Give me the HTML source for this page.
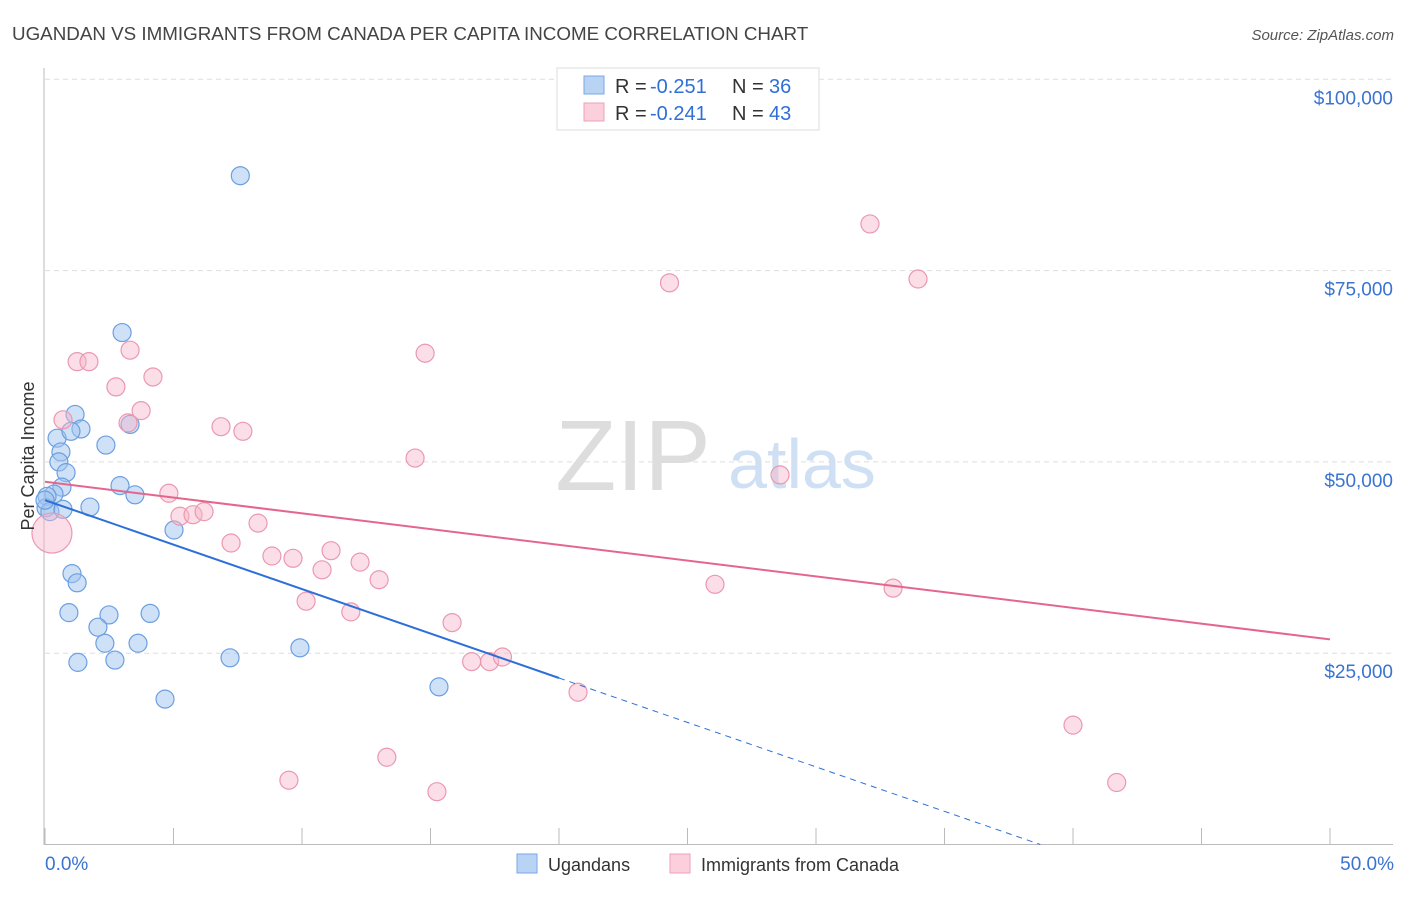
<!DOCTYPE html>
<html><head><meta charset="utf-8"><style>
body{margin:0;background:#fff;font-family:"Liberation Sans",sans-serif}
svg text{font-family:"Liberation Sans",sans-serif}
</style></head><body>
<svg id="chart" width="1406" height="892">
<text x="12" y="40" font-size="18.8" fill="#444">UGANDAN VS IMMIGRANTS FROM CANADA PER CAPITA INCOME CORRELATION CHART</text>
<text x="1394" y="40" font-size="15" fill="#555" font-style="italic" text-anchor="end">Source: ZipAtlas.com</text>
<g>
<text x="633" y="490" font-size="100" fill="#ddd" font-family="Liberation Serif,serif" text-anchor="middle">ZIP</text>
<text x="802" y="488" font-size="70" fill="#cfe0f5" text-anchor="middle">atlas</text>
</g>
<g id="grid"></g><g id="axes"></g><g id="marks"></g>
<text transform="translate(34,456) rotate(-90)" font-size="18" fill="#333" text-anchor="middle">Per Capita Income</text>
<g>
<rect x="557" y="68" width="262" height="62" fill="#fff" stroke="#ddd"/>
<rect x="584" y="76" width="20" height="18" fill="#b9d3f5" stroke="#7aa7e6"/>
<rect x="584" y="103" width="20" height="18" fill="#fbd0dc" stroke="#eea0b6"/>
<text x="615" y="93" font-size="20" fill="#333">R =</text>
<text x="650" y="93" font-size="20" fill="#2f6fd6">-0.251</text>
<text x="732" y="93" font-size="20" fill="#333">N =</text>
<text x="769" y="93" font-size="20" fill="#2f6fd6">36</text>
<text x="615" y="120" font-size="20" fill="#333">R =</text>
<text x="650" y="120" font-size="20" fill="#2f6fd6">-0.241</text>
<text x="732" y="120" font-size="20" fill="#333">N =</text>
<text x="769" y="120" font-size="20" fill="#2f6fd6">43</text>
</g>
<g>
<rect x="517" y="854" width="20" height="19" fill="#b9d3f5" stroke="#7aa7e6"/>
<text x="548" y="871" font-size="18" fill="#333">Ugandans</text>
<rect x="670" y="854" width="20" height="19" fill="#fbd0dc" stroke="#eea0b6"/>
<text x="701" y="871" font-size="18" fill="#333">Immigrants from Canada</text>
</g>
</svg>
<script>
const blueX=[7.6,3.0,1.17,1.4,3.31,0.47,1.01,2.37,0.62,0.54,0.82,0.66,2.92,3.5,0.35,0.08,0.04,0.19,0.7,1.75,5.02,1.05,1.25,0.93,2.49,4.09,2.06,2.33,3.62,1.28,2.72,7.2,9.92,4.67,15.33,0.0];
const blueY=[87400,66900,56200,54300,54900,53100,54000,52200,51300,50000,48600,46700,46900,45700,45800,45500,44000,43500,43800,44100,41100,35400,34200,30300,30000,30200,28400,26300,26300,23800,24100,24400,25700,19000,20600,45000];
const pinkX=[32.1,24.3,33.97,14.79,3.31,1.25,1.71,4.2,2.76,3.74,3.23,0.7,6.85,7.7,14.4,28.6,4.82,5.25,5.76,6.19,8.29,7.24,8.83,9.65,11.13,10.78,12.26,13.0,10.16,11.9,15.84,26.07,33.0,16.6,17.3,17.8,20.74,40.0,13.3,9.49,15.25,41.7,0.27];
const pinkY=[81100,73400,73900,64200,64600,63100,63100,61100,59800,56700,55100,55500,54600,54000,50500,48300,45900,42900,43100,43500,42000,39400,37700,37400,38400,35900,36900,34600,31800,30400,29000,34000,33500,23900,23900,24500,19900,15600,11400,8400,6900,8100,40700];
const blueTrend=[45000,21760]; // values at x=0 and x=20
const pinkTrend=[47400,26800]; // values at x=0 and x=50
const yTicks=[25000,50000,75000,100000];
const yTickLabels=["$25,000","$50,000","$75,000","$100,000"];
const xTicks=[0,5,10,15,20,25,30,35,40,45,50];
const NS="http://www.w3.org/2000/svg";
const X=v=>45+v*25.7, Y=v=>844.5-v*191.3/25000;
function mk(p,t,a){const e=document.createElementNS(NS,t);for(const k in a)e.setAttribute(k,a[k]);document.getElementById(p).appendChild(e);return e;}
yTicks.forEach((t,i)=>{
 const g=mk('grid','line',{x1:45,x2:1393,y1:Y(t),y2:Y(t),stroke:'#ddd','stroke-dasharray':'5,4'});
 
 
 const l=mk('grid','text',{x:1393,y:Y(t)+25,'font-size':19,fill:'#3a73d0','text-anchor':'end'});l.textContent=yTickLabels[i];
 
 
});
const ya=mk('axes','line',{x1:44,x2:44,y1:68,y2:845,stroke:'#bbb'});


const xa=mk('axes','line',{x1:44,x2:1393,y1:844.5,y2:844.5,stroke:'#bbb'});


xTicks.forEach(t=>{const e=mk('axes','line',{x1:X(t),x2:X(t),y1:828,y2:844,stroke:'#bbb'});
 
 });
[[0,'0.0%','start',45],[50,'50.0%','end',1394]].forEach(d=>{const e=mk('axes','text',{x:d[3],y:870,'font-size':19,fill:'#3a73d0','text-anchor':d[2]});e.textContent=d[1];
 
 });
blueX.forEach((x,i)=>{const c=mk('marks','circle',{cx:X(x),cy:Y(blueY[i]),r:9,fill:'rgba(160,196,240,0.5)',stroke:'#6c9fe0','stroke-width':1.2});
 
 });
pinkX.forEach((x,i)=>{const c=mk('marks','circle',{cx:X(x),cy:Y(pinkY[i]),r:i===pinkX.length-1?20:9,fill:'rgba(247,182,202,0.45)',stroke:'#eb98b0','stroke-width':1.2});
 
 });
const bs=(blueTrend[1]-blueTrend[0])/20;
const bl=mk('marks','line',{x1:X(0),y1:Y(blueTrend[0]),x2:X(20),y2:Y(blueTrend[1]),stroke:'#2d6fd8','stroke-width':2});


const xEnd=-blueTrend[0]/bs;
const bd=mk('marks','line',{x1:X(20),y1:Y(blueTrend[1]),x2:X(xEnd),y2:Y(0),stroke:'#2d6fd8','stroke-width':1,'stroke-dasharray':'6,5'});


const pl=mk('marks','line',{x1:X(0),y1:Y(pinkTrend[0]),x2:X(50),y2:Y(pinkTrend[1]),stroke:'#e4668f','stroke-width':2});


</script>
</body></html>
